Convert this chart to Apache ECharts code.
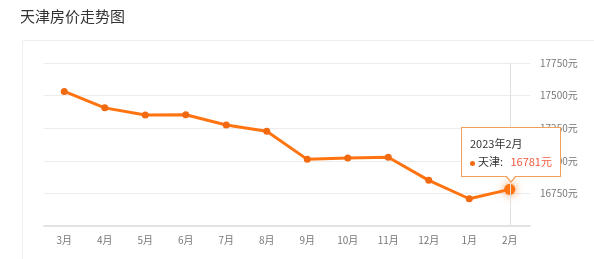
<!DOCTYPE html>
<html><head><meta charset="utf-8">
<script src="https://cdn.jsdelivr.net/npm/echarts@6/dist/echarts.min.js"></script>
<style>html,body{margin:0;padding:0;background:#fff;}#c{width:594px;height:259px;}</style>
</head><body><div id="c"></div>
<script>
var categories = ['3月','4月','5月','6月','7月','8月','9月','10月','11月','12月','1月','2月'];
var tooltipTitles = ['2022年3月','2022年4月','2022年5月','2022年6月','2022年7月','2022年8月','2022年9月','2022年10月','2022年11月','2022年12月','2023年1月','2023年2月'];
var prices = [17532, 17406, 17352, 17353, 17275, 17227, 17011, 17021, 17027, 16850, 16709, 16781];
var seriesName = '天津';
var titleText = '天津房价走势图';
var yMin = 16500, yMax = 17750, yStep = 250;

var chart = echarts.init(document.getElementById('c'), null, {renderer: 'canvas'});
chart.setOption({
  animation: false,
  title: {text: titleText, left: 15, top: 4, textStyle: {fontSize: 15, fontWeight: 'normal', color: '#333', fontFamily: 'Noto Sans CJK SC'}},
  graphic: [{type: 'rect', left: 20, top: 38, shape: {width: 620, height: 260}, style: {fill: 'none', stroke: '#eeeeee', lineWidth: 1}, silent: true}],
  grid: {left: 44, right: 64, top: 63, bottom: 33},
  tooltip: {
    trigger: 'axis',
    position: function (point, params, dom, rect, size) {
      return [point[0] - size.contentSize[0] / 2 + 1, point[1] - size.contentSize[1] - 12];
    },
    backgroundColor: '#fff',
    borderColor: '#f5a05a',
    borderWidth: 1,
    padding: [6, 8],
    extraCssText: 'box-shadow:none;border-radius:0;overflow:visible;',
    axisPointer: {type: 'line', lineStyle: {color: '#e0e0e0', width: 1, type: 'solid'}},
    formatter: function (p) {
      var i = p[0].dataIndex;
      return '<div style="font-family:Noto Sans CJK SC;font-size:11px;color:#333;line-height:18px">' + tooltipTitles[i] +
        '<br/><span style="display:inline-block;width:5px;height:5px;border-radius:50%;background:#f26a10;vertical-align:middle;margin-right:3px"></span>' +
        seriesName + ':&nbsp;&nbsp;&nbsp;<span style="color:#f5593c">' + p[0].value + '元</span></div>' +
        '<div style="position:absolute;left:50%;bottom:-7px;margin-left:-6px;width:0;height:0;border-left:6px solid transparent;border-right:6px solid transparent;border-top:7px solid #f5a05a"></div>' +
        '<div style="position:absolute;left:50%;bottom:-5px;margin-left:-5px;width:0;height:0;border-left:5px solid transparent;border-right:5px solid transparent;border-top:6px solid #fff"></div>';
    }
  },
  xAxis: {
    type: 'category', data: categories, boundaryGap: true,
    axisLine: {lineStyle: {color: '#e3e3e3', width: 2}},
    axisTick: {show: false},
    axisLabel: {color: '#777', fontSize: 10, margin: 9, fontFamily: 'Noto Sans CJK SC'}
  },
  yAxis: {
    type: 'value', position: 'right', min: yMin, max: yMax, interval: yStep,
    axisLine: {show: false}, axisTick: {show: false},
    axisLabel: {color: '#777', fontSize: 10, margin: 10, showMinLabel: false, formatter: function (v) { return v + '元'; }, fontFamily: 'Noto Sans CJK SC'},
    splitLine: {lineStyle: {color: '#ececec'}}
  },
  series: [{
    name: seriesName, type: 'line', data: prices,
    symbol: 'circle', symbolSize: 7,
    lineStyle: {color: '#f26a10', width: 3},
    itemStyle: {color: '#f26a10'},
    emphasis: {scale: 1.6, itemStyle: {shadowBlur: 8, shadowColor: 'rgba(245,120,30,0.8)'}}
  }]
});
setTimeout(function(){ chart.dispatchAction({type: 'showTip', seriesIndex: 0, dataIndex: prices.length - 1}); }, 50);
</script></body></html>
